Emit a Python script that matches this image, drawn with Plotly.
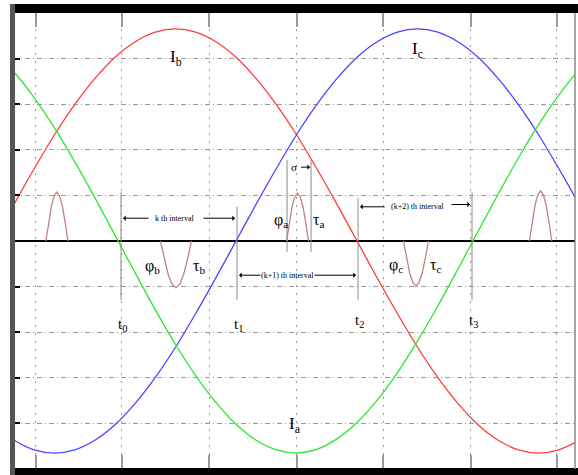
import plotly.graph_objects as go

# Electrical angle (degrees) of the sampled phase-current values
THETA = list(range(-60, 241, 10))

# Phase currents read at each angle
I_A = [4.14, 3.70, 3.14, 2.48, 1.74, 0.95, 0.13, -0.70, -1.51, -2.27, -2.95,
       -3.54, -4.02, -4.37, -4.58, -4.65, -4.57, -4.34, -3.98, -3.49, -2.89,
       -2.19, -1.43, -0.62, 0.21, 1.03, 1.82, 2.55, 3.20, 3.75, 4.18]
I_B = [0.00, 0.81, 1.59, 2.33, 2.99, 3.56, 4.03, 4.37, 4.58, 4.65, 4.58,
       4.37, 4.03, 3.56, 2.99, 2.33, 1.59, 0.81, 0.00, -0.81, -1.59,
       -2.33, -2.99, -3.56, -4.03, -4.37, -4.58, -4.65, -4.58, -4.37, -4.03]
I_C = [-4.03, -4.37, -4.58, -4.65, -4.58, -4.37, -4.03, -3.56, -2.99, -2.33, -1.59,
       -0.81, 0.00, 0.81, 1.59, 2.33, 2.99, 3.56, 4.03, 4.37, 4.58,
       4.65, 4.58, 4.37, 4.03, 3.56, 2.99, 2.33, 1.59, 0.81, 0.00]

# Injected current pulses: centre angle, width (deg) and peak value
PULSE_CENTER = [-28.8, 30.2, 90.5, 149.2, 211.0]
PULSE_WIDTH = [10.9, 15.4, 10.9, 12.4, 11.1]
PULSE_PEAK = [1.07, -1.03, 1.05, -0.99, 1.10]
PULSE_PROFILE = [0, 0.38, 0.71, 0.92, 1.0, 0.92, 0.71, 0.38, 0]

# Commutation instants t0..t3 and the edges of the middle pulse
T_MARK = [2.97, 60.5, 120.5, 177.0]
T_LABEL = ["t<sub>0</sub>", "t<sub>1</sub>", "t<sub>2</sub>", "t<sub>3</sub>"]
T_TOP = [1.07, 0.75, 0.94, 1.07]
T_BOTTOM = -1.30
EDGE_MARK = [85.3, 97.2]
EDGE_SPAN = [1.78, -0.24]

GRID_X = [-39.2, 3.3, 46.8, 90.1, 133.0, 176.3, 219.0]
GRID_Y = [-4, -3, -2, -1, 0, 1, 2, 3, 4]
X_RANGE = [-50.57, 228.06]
Y_RANGE = [-5, 5]

fig = go.Figure()

for vals, col in ((I_B, "#ff3c3c"), (I_C, "#4646ff"), (I_A, "#2ee62e")):
    fig.add_trace(go.Scatter(x=THETA, y=vals, mode="lines",
                             line=dict(color=col, width=1.3, shape="spline"),
                             hoverinfo="skip", showlegend=False))

px_, py_ = [], []
n = len(PULSE_PROFILE) - 1
for c, w, h in zip(PULSE_CENTER, PULSE_WIDTH, PULSE_PEAK):
    for k, p in enumerate(PULSE_PROFILE):
        px_.append(c - w / 2 + w * k / n)
        py_.append(h * p)
    px_.append(None)
    py_.append(None)
fig.add_trace(go.Scatter(x=px_, y=py_, mode="lines",
                         line=dict(color="#c08282", width=1.3),
                         hoverinfo="skip", showlegend=False))

# thin guide lines
vx, vy = [], []
for t, top in zip(T_MARK, T_TOP):
    vx += [t, t, None]
    vy += [top, T_BOTTOM, None]
for e in EDGE_MARK:
    vx += [e, e, None]
    vy += [EDGE_SPAN[0], EDGE_SPAN[1], None]
fig.add_trace(go.Scatter(x=vx, y=vy, mode="lines",
                         line=dict(color="#8c8c8c", width=1),
                         hoverinfo="skip", showlegend=False))

ann = []
serif = "Liberation Serif"


def label(x, y, text, size=16):
    ann.append(dict(x=x, y=y, text=text, showarrow=False,
                    font=dict(family=serif, size=size, color="black")))


def arrow(x0, x1, y):
    ann.append(dict(x=x1, y=y, ax=x0, ay=y, axref="x", ayref="y",
                    xref="x", yref="y", text="", showarrow=True,
                    arrowhead=1, arrowsize=0.9, arrowwidth=1,
                    arrowcolor="black"))


label(30.2, 4.01, "I<sub>b</sub>", 17)
label(150.2, 4.19, "I<sub>c</sub>", 17)
label(89.2, -4.04, "I<sub>a</sub>", 17)

label(18.8, -0.57, "φ<sub>b</sub>", 16)
label(41.6, -0.57, "τ<sub>b</sub>", 16)
label(82.3, 0.44, "φ<sub>a</sub>", 16)
label(101.1, 0.46, "τ<sub>a</sub>", 16)
label(139.3, -0.53, "φ<sub>c</sub>", 16)
label(158.7, -0.53, "τ<sub>c</sub>", 16)

for t, txt, yy in zip(T_MARK, T_LABEL, [-1.84, -1.84, -1.76, -1.76]):
    label(t + 0.5, yy, txt, 15)

label(29.7, 0.50, "k th interval", 8)
arrow(17.4, 3.97, 0.50)
arrow(43.1, 59.5, 0.50)

label(85.3, -0.75, "(k+1) th interval", 8)
arrow(72.9, 61.5, -0.75)
arrow(98.2, 119.5, -0.75)

label(150.2, 0.75, "(k+2) th interval", 8)
arrow(134.4, 121.5, 0.75)
arrow(166.1, 176.0, 0.80)

label(88.9, 1.62, "σ", 11)
arrow(91.5, 96.7, 1.62)

fig.update_layout(
    width=578, height=475,
    margin=dict(l=13, r=3, t=13, b=6),
    paper_bgcolor="white", plot_bgcolor="white",
    annotations=ann,
    xaxis=dict(range=X_RANGE, tickvals=GRID_X, showticklabels=False,
               showgrid=True, gridcolor="#9a9a9a", gridwidth=1,
               griddash="2px,6px", zeroline=False,
               ticks="inside", ticklen=14, tickwidth=2, tickcolor="#9a9a9a",
               mirror="ticks", showline=False),
    yaxis=dict(range=Y_RANGE, tickvals=GRID_Y, showticklabels=False,
               showgrid=True, gridcolor="#9a9a9a", gridwidth=1,
               griddash="5px,3px,1px,3px",
               zeroline=True, zerolinecolor="black", zerolinewidth=2,
               ticks="inside", ticklen=7, tickwidth=2, tickcolor="black",
               showline=False),
    shapes=[
        dict(type="rect", xref="paper", yref="paper", x0=-0.0053, x1=1.0053,
             y0=1.0, y1=1.0197, fillcolor="black", line_width=0, layer="above"),
        dict(type="rect", xref="paper", yref="paper", x0=-0.0053, x1=1.0053,
             y0=-0.0132, y1=0.0022, fillcolor="black", line_width=0, layer="above"),
        dict(type="rect", xref="paper", yref="paper", x0=-0.0053, x1=0.0036,
             y0=-0.0132, y1=1.0197, fillcolor="#555555", line_width=0, layer="above"),
        dict(type="line", xref="paper", yref="paper", x0=1.0, x1=1.0,
             y0=0, y1=1, line=dict(color="#8a8a8a", width=1.5), layer="above"),
    ],
)

fig.write_html("out.html")
